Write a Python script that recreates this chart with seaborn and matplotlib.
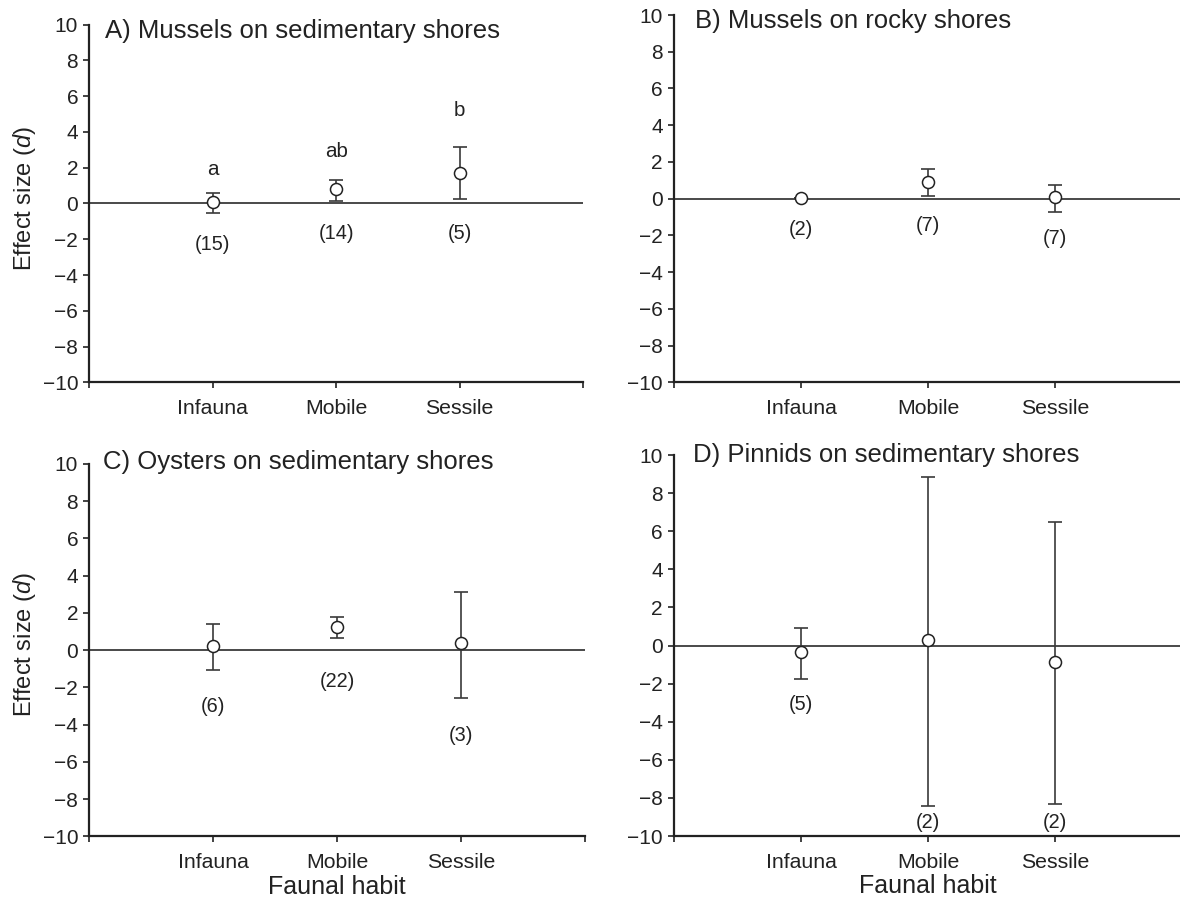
import numpy as np
import pandas as pd
import matplotlib
matplotlib.use("Agg")
import matplotlib.pyplot as plt
import seaborn as sns

# categories shared by all panels
habits = ["Infauna", "Mobile", "Sessile"]

# A) Mussels on sedimentary shores
a_mean = [0.10, 0.79, 1.72]
a_low = [-0.51, 0.12, 0.23]
a_high = [0.60, 1.31, 3.14]
a_n = ["(15)", "(14)", "(5)"]
a_n_y = [-2.27, -1.68, -1.68]
a_letters = ["a", "ab", "b"]
a_letters_y = [1.59, 2.58, 4.9]

# B) Mussels on rocky shores
b_mean = [0.05, 0.93, 0.08]
b_low = [0.05, 0.13, -0.71]
b_high = [0.05, 1.60, 0.73]
b_n = ["(2)", "(7)", "(7)"]
b_n_y = [-1.70, -1.44, -2.19]

# C) Oysters on sedimentary shores
c_mean = [0.22, 1.26, 0.37]
c_low = [-1.06, 0.64, -2.59]
c_high = [1.41, 1.77, 3.15]
c_n = ["(6)", "(22)", "(3)"]
c_n_y = [-3.0, -1.69, -4.56]

# D) Pinnids on sedimentary shores
d_mean = [-0.36, 0.29, -0.85]
d_low = [-1.74, -8.41, -8.32]
d_high = [0.90, 8.86, 6.50]
d_n = ["(5)", "(2)", "(2)"]
d_n_y = [-3.12, -9.3, -9.3]

titles = ["A) Mussels on sedimentary shores", "B) Mussels on rocky shores",
          "C) Oysters on sedimentary shores", "D) Pinnids on sedimentary shores"]

sns.set_theme(style="ticks")
plt.rcParams['font.family'] = ['Liberation Sans', 'DejaVu Sans']
plt.rcParams['mathtext.fontset'] = 'custom'
plt.rcParams['mathtext.it'] = 'Liberation Sans:italic'
plt.rcParams['mathtext.rm'] = 'Liberation Sans'

line_col = "#3a3a3a"
text_col = "#222222"

fig = plt.figure(figsize=(11.8, 9.05), dpi=100)
rects = [[0.0757, 0.5776, 0.4184, 0.3951],
         [0.5712, 0.5776, 0.4305, 0.4058],
         [0.0757, 0.0757, 0.4201, 0.4116],
         [0.5712, 0.0762, 0.4305, 0.4210]]
title_x = [0.032, 0.041, 0.028, 0.037]
title_y = [0.983, 0.984, 1.005, 1.0]

panels = [
    (a_mean, a_low, a_high, a_n, a_n_y),
    (b_mean, b_low, b_high, b_n, b_n_y),
    (c_mean, c_low, c_high, c_n, c_n_y),
    (d_mean, d_low, d_high, d_n, d_n_y),
]

for i, (mean, low, high, labels, labels_y) in enumerate(panels):
    ax = fig.add_axes(rects[i])
    df = pd.DataFrame({"habit": habits, "mean": mean, "low": low, "high": high})
    df["pos"] = np.arange(1, len(habits) + 1)

    ax.axhline(0, color=line_col, lw=1.3, zorder=1)
    yerr = [df["mean"] - df["low"], df["high"] - df["mean"]]
    ax.errorbar(df["pos"], df["mean"], yerr=yerr, fmt="none", ecolor=line_col,
                elinewidth=1.2, capsize=5, capthick=1.2, zorder=2)
    sns.scatterplot(data=df, x="pos", y="mean", ax=ax, s=75, marker="o",
                    facecolor="white", edgecolor=text_col, linewidth=1.1,
                    zorder=3, legend=False)

    for p, lab, yy in zip(df["pos"], labels, labels_y):
        ax.text(p, yy, lab, ha="center", va="center", fontsize=14.3, color=text_col)
    if i == 0:
        for p, lab, yy in zip(df["pos"], a_letters, a_letters_y):
            ax.text(p, yy, lab, ha="center", va="baseline", fontsize=14.8, color=text_col)

    ax.set_xlim(0, 4)
    ax.set_ylim(-10, 10)
    ax.set_xticks(range(0, 5))
    ax.set_xticklabels([""] + habits + [""], fontsize=15.3)
    ax.set_yticks(range(-10, 11, 2))
    ax.set_yticklabels([str(v).replace("-", "\u2212") for v in range(-10, 11, 2)],
                       fontsize=15)
    ax.tick_params(axis="both", direction="out", length=4, width=1.2,
                   colors=text_col, pad=4)
    ax.tick_params(axis="x", pad=8)
    for side in ["top", "right"]:
        ax.spines[side].set_visible(False)
    for side in ["left", "bottom"]:
        ax.spines[side].set_linewidth(1.6)
        ax.spines[side].set_color(text_col)

    ax.set_xlabel("Faunal habit" if i >= 2 else "", fontsize=18, color=text_col,
                  labelpad=2)
    if i % 2 == 0:
        ax.set_ylabel("Effect size ($\\mathit{d}$)", fontsize=17, color=text_col)
        ax.yaxis.set_label_coords(-0.104, 0.515)
    else:
        ax.set_ylabel("")
    ax.text(title_x[i], title_y[i], titles[i], transform=ax.transAxes,
            ha="left", va="center", fontsize=18.5, color=text_col)

fig.savefig("out.png", dpi=100)
